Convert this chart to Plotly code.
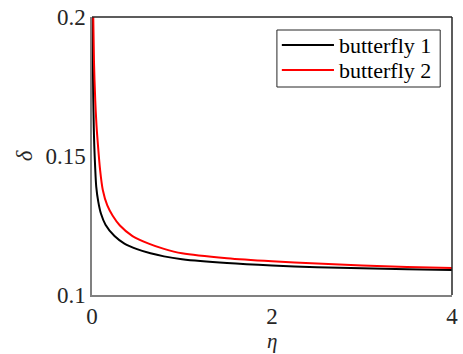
import plotly.graph_objects as go

# eta values and delta values for each butterfly
eta_b1 = [0.007, 0.010, 0.014, 0.020, 0.025, 0.035, 0.047, 0.07, 0.10, 0.15, 0.25,
          0.36, 0.50, 0.65, 0.80, 1.0, 1.5, 2.0, 2.5, 3.0, 3.5, 4.0]
delta_b1 = [0.200, 0.183, 0.171, 0.160, 0.154, 0.146, 0.139, 0.1335, 0.1292, 0.1253, 0.1212,
            0.1185, 0.1165, 0.1150, 0.1139, 0.1129, 0.1115, 0.1106, 0.1100, 0.1096, 0.1093, 0.1090]

eta_b2 = [0.014, 0.022, 0.036, 0.05, 0.066, 0.09, 0.12, 0.17, 0.23, 0.31, 0.45,
          0.63, 0.80, 1.0, 1.5, 2.0, 2.5, 3.0, 3.5, 4.0]
delta_b2 = [0.200, 0.184, 0.170, 0.161, 0.154, 0.145, 0.1378, 0.1322, 0.1285, 0.1250, 0.1212,
            0.1185, 0.1166, 0.1150, 0.1132, 0.1121, 0.1113, 0.1106, 0.1101, 0.1097]

series_names = ["butterfly 1", "butterfly 2"]
series_colors = ["#000000", "#ff0000"]

x_ticks = [0, 2, 4]
y_ticks = [0.1, 0.15, 0.2]
y_tick_text = ["0.1", "0.15", "0.2"]

FONT = "'Times New Roman', 'Liberation Serif', Times, serif"
TXT = "#262626"

W, H = 463, 354
ML, MR, MT, MB = 92, 5, 17, 59

fig = go.Figure()
for xs, ys, name, col in [(eta_b1, delta_b1, series_names[0], series_colors[0]),
                          (eta_b2, delta_b2, series_names[1], series_colors[1])]:
    fig.add_trace(go.Scatter(x=xs, y=ys, mode="lines", name=name,
                             line=dict(color=col, width=2, shape="spline", smoothing=0.8),
                             showlegend=False))

fig.update_layout(
    width=W, height=H,
    margin=dict(l=ML, r=MR, t=MT, b=MB),
    paper_bgcolor="white", plot_bgcolor="white",
    font=dict(family=FONT, color=TXT, size=23),
    xaxis=dict(range=[0, 4], tickvals=x_ticks, ticktext=[str(v) for v in x_ticks],
               showgrid=False, zeroline=False, showline=True, linecolor="#808080",
               linewidth=1.5, ticks="", ticklen=0, ticklabeloverflow="allow",
               tickfont=dict(family=FONT, size=23, color=TXT)),
    yaxis=dict(range=[0.1, 0.2], tickvals=y_ticks, ticktext=y_tick_text,
               showgrid=False, zeroline=False, showline=True, linecolor="#808080",
               linewidth=1.5, ticks="", ticklen=0, ticklabeloverflow="allow",
               tickfont=dict(family=FONT, size=23, color=TXT)),
)

pw, ph = W - ML - MR, H - MT - MB
def px_x(p):
    return (p - ML) / pw
def px_y(p):
    return 1 - (p - MT) / ph

# axis titles
fig.add_annotation(xref="paper", yref="paper", x=px_x(275), y=px_y(341),
                   xanchor="center", yanchor="middle", showarrow=False,
                   text="<i>η</i>", font=dict(family=FONT, size=21, color=TXT))
fig.add_annotation(xref="paper", yref="paper", x=px_x(23), y=px_y(156),
                   xanchor="center", yanchor="middle", showarrow=False, textangle=-90,
                   text="<i>δ</i>", font=dict(family=FONT, size=23, color=TXT))

# top and right box edges
fig.add_shape(type="line", xref="paper", yref="paper", x0=0, x1=1, y0=1, y1=1,
              line=dict(color=TXT, width=1.5))
fig.add_shape(type="line", xref="paper", yref="paper", x0=1, x1=1, y0=0, y1=1,
              line=dict(color=TXT, width=1.5))

# legend box in the upper right
fig.add_shape(type="rect", xref="paper", yref="paper",
              x0=px_x(280), x1=px_x(446), y0=px_y(87), y1=px_y(30),
              line=dict(color=TXT, width=1), fillcolor="white")
for i, (name, col) in enumerate(zip(series_names, series_colors)):
    yc = 45 + 25 * i
    fig.add_shape(type="line", xref="paper", yref="paper",
                  x0=px_x(285), x1=px_x(338), y0=px_y(yc), y1=px_y(yc),
                  line=dict(color=col, width=2))
    fig.add_annotation(xref="paper", yref="paper", x=px_x(341), y=px_y(yc),
                       xanchor="left", yanchor="middle", showarrow=False,
                       text=name, font=dict(family=FONT, size=22, color="#000000"))

fig.write_html("out.html")
